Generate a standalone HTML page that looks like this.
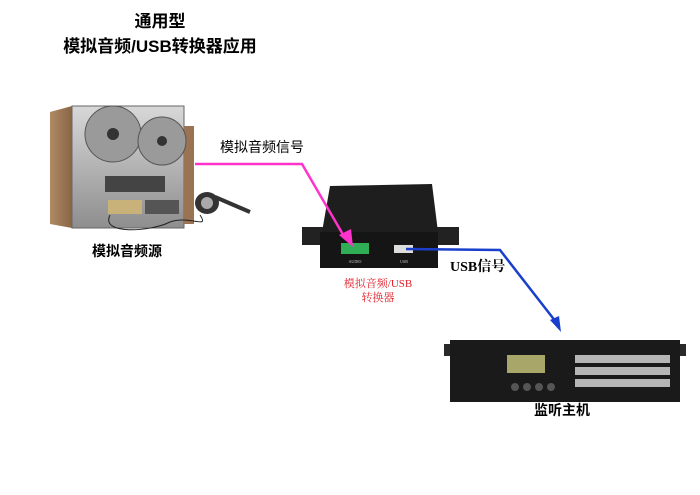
<!DOCTYPE html>
<html><head><meta charset="utf-8"><style>
html,body{margin:0;padding:0;background:#fff;width:700px;height:495px;overflow:hidden}
svg{display:block}
.t{font-family:"Liberation Sans","Noto Sans CJK SC",sans-serif;font-weight:bold;fill:#000}
.s{font-family:"Liberation Serif","Noto Serif CJK SC",serif}
</style></head><body>
<svg width="700" height="495" viewBox="0 0 700 495" xmlns="http://www.w3.org/2000/svg">
<defs>
<linearGradient id="wood" x1="0" x2="1"><stop offset="0" stop-color="#b08a66"/><stop offset="1" stop-color="#8a6544"/></linearGradient>
<linearGradient id="steel" x1="0" y1="0" x2="0" y2="1"><stop offset="0" stop-color="#d8d8d8"/><stop offset="1" stop-color="#8e8e8e"/></linearGradient>
</defs>
<text class="t" x="160" y="27" font-size="17" text-anchor="middle">通用型</text>
<text class="t" x="160" y="52" font-size="17" text-anchor="middle">模拟音频/USB转换器应用</text>

<!-- tape deck -->
<polygon points="50,112 72,106 72,228 50,224" fill="url(#wood)"/>
<rect x="72" y="106" width="112" height="122" fill="url(#steel)" stroke="#666"/>
<rect x="184" y="126" width="10" height="98" fill="#9a7452"/>
<circle cx="113" cy="134" r="28" fill="#9a9a9a" stroke="#555"/>
<circle cx="113" cy="134" r="6" fill="#333"/>
<circle cx="162" cy="141" r="24" fill="#9a9a9a" stroke="#555"/>
<circle cx="162" cy="141" r="5" fill="#333"/>
<rect x="105" y="176" width="60" height="16" fill="#444"/>
<rect x="108" y="200" width="34" height="14" fill="#c9b27a"/>
<rect x="145" y="200" width="34" height="14" fill="#555"/>
<ellipse cx="207" cy="203" rx="12" ry="11" fill="#333"/>
<circle cx="207" cy="203" r="6" fill="#aaa"/>
<path d="M215,197 L250,212" stroke="#333" stroke-width="4"/>
<path d="M110,215 C100,235 150,232 170,222 C190,215 210,230 200,215" stroke="#222" fill="none"/>
<text class="t" x="127" y="256" font-size="14" text-anchor="middle">模拟音频源</text>

<!-- converter -->
<rect x="302" y="227" width="22" height="18" fill="#222"/>
<rect x="437" y="227" width="22" height="18" fill="#222"/>
<polygon points="330,186 432,184 438,232 322,232" fill="#1e1e1e"/>
<rect x="320" y="232" width="118" height="36" fill="#151515"/>
<rect x="341" y="243" width="28" height="11" fill="#2fae55"/>
<rect x="394" y="245" width="19" height="8" fill="#ddd"/>
<text x="355" y="263" font-size="4" fill="#ccc" text-anchor="middle">AUDIO</text>
<text x="404" y="263" font-size="4" fill="#ccc" text-anchor="middle">USB</text>
<text class="s" x="378" y="287" font-size="11" fill="#e0202a" text-anchor="middle">模拟音频/USB</text>
<text class="s" x="378" y="301" font-size="11" fill="#e0202a" text-anchor="middle">转换器</text>

<!-- pink line -->
<text x="220" y="152" font-size="14" fill="#000" font-family="Liberation Sans,Noto Sans CJK SC,sans-serif">模拟音频信号</text>
<polyline points="195,164 302,164 345,238" fill="none" stroke="#ff33cc" stroke-width="2.5"/>
<polygon points="339,235 353,247 351,229" fill="#ff33cc"/>

<!-- host -->
<rect x="444" y="344" width="242" height="12" fill="#2a2a2a"/>
<rect x="450" y="340" width="230" height="62" fill="#1a1a1a"/>
<rect x="507" y="355" width="38" height="18" fill="#a9a66a"/>
<g fill="#ddd">
<rect x="575" y="355" width="95" height="8" opacity=".8"/>
<rect x="575" y="367" width="95" height="8" opacity=".8"/>
<rect x="575" y="379" width="95" height="8" opacity=".8"/>
</g>
<g fill="#555"><circle cx="515" cy="387" r="4"/><circle cx="527" cy="387" r="4"/><circle cx="539" cy="387" r="4"/><circle cx="551" cy="387" r="4"/></g>
<text class="t" x="562" y="415" font-size="14" text-anchor="middle">监听主机</text>

<!-- blue line -->
<polyline points="406,249 500,250 556,322" fill="none" stroke="#1a3fcc" stroke-width="2.5"/>
<polygon points="550,320 561,332 559,316" fill="#1a3fcc"/>
<text class="s" x="450" y="271" font-size="14" font-weight="bold" fill="#000">USB信号</text>
</svg>
</body></html>
